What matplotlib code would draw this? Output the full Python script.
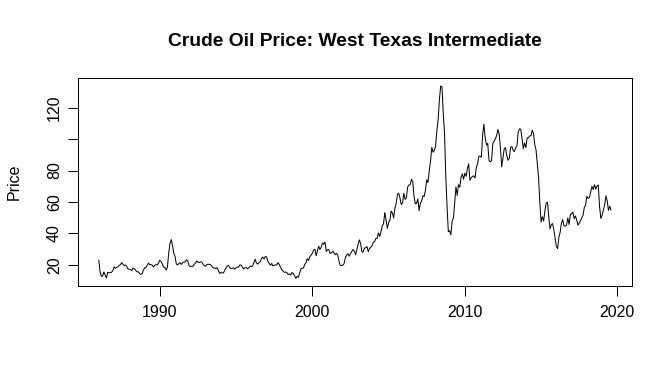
import numpy as np
import matplotlib
matplotlib.use("Agg")
import matplotlib.pyplot as plt

plt.rcParams['font.family'] = ['Liberation Sans', 'DejaVu Sans']

start_year = 1986
price = [
    # 1986
    22.93, 15.46, 12.61, 12.84, 15.38, 13.43, 11.58, 15.10, 14.87, 14.90, 15.22, 16.11,
    # 1987
    18.65, 17.75, 18.30, 18.68, 19.44, 20.07, 21.34, 20.31, 19.53, 19.86, 18.85, 17.28,
    # 1988
    17.13, 16.80, 16.20, 17.86, 17.42, 16.53, 15.50, 15.52, 14.54, 13.77, 14.14, 16.38,
    # 1989
    18.02, 17.94, 19.48, 21.07, 20.12, 20.05, 19.78, 18.58, 19.59, 20.10, 19.86, 21.10,
    # 1990
    22.86, 22.11, 20.39, 18.43, 18.20, 16.70, 18.45, 27.31, 33.51, 36.04, 32.33, 27.28,
    # 1991
    25.23, 20.48, 19.90, 20.83, 21.23, 20.19, 21.40, 21.69, 21.89, 23.23, 22.46, 19.50,
    # 1992
    18.79, 19.01, 18.92, 20.23, 20.98, 22.39, 21.78, 21.34, 21.88, 21.69, 20.34, 19.41,
    # 1993
    19.03, 20.09, 20.32, 20.25, 19.95, 19.09, 17.89, 18.01, 17.50, 18.15, 16.61, 14.52,
    # 1994
    15.03, 14.78, 14.68, 16.42, 17.89, 19.06, 19.66, 18.38, 17.45, 17.72, 18.07, 17.16,
    # 1995
    18.04, 18.57, 18.54, 19.90, 19.74, 18.45, 17.33, 18.02, 18.23, 17.43, 17.99, 19.03,
    # 1996
    18.85, 19.09, 21.33, 23.50, 21.17, 20.42, 21.30, 21.90, 23.97, 24.88, 23.71, 25.23,
    # 1997
    25.13, 22.18, 20.97, 19.70, 20.82, 19.26, 19.66, 19.95, 19.80, 21.33, 20.19, 18.33,
    # 1998
    16.72, 16.06, 15.12, 15.35, 14.91, 13.72, 14.17, 13.47, 15.03, 14.46, 13.00, 11.35,
    # 1999
    12.52, 12.01, 14.68, 17.31, 17.72, 17.92, 20.10, 21.28, 23.80, 22.69, 25.00, 26.10,
    # 2000
    27.26, 29.37, 29.84, 25.72, 28.79, 31.82, 29.70, 31.26, 33.88, 33.11, 34.42, 28.44,
    # 2001
    29.59, 29.61, 27.25, 27.49, 28.63, 27.60, 26.43, 27.37, 26.20, 22.17, 19.64, 19.39,
    # 2002
    19.72, 20.72, 24.53, 26.18, 27.04, 25.52, 26.97, 28.39, 29.66, 28.84, 26.35, 29.46,
    # 2003
    32.95, 35.83, 33.51, 28.17, 28.11, 30.66, 30.75, 31.57, 28.31, 30.34, 31.11, 32.13,
    # 2004
    34.31, 34.69, 36.74, 36.75, 40.28, 38.03, 40.78, 44.90, 45.94, 53.28, 48.47, 43.15,
    # 2005
    46.84, 48.15, 54.19, 52.98, 49.83, 56.35, 58.99, 64.98, 65.59, 62.26, 58.32, 59.41,
    # 2006
    65.49, 61.63, 62.69, 69.44, 70.84, 70.95, 74.41, 73.04, 63.80, 58.89, 59.08, 61.96,
    # 2007
    54.51, 59.28, 60.44, 63.98, 63.46, 67.49, 74.12, 72.36, 79.92, 85.80, 94.77, 91.69,
    # 2008
    92.97, 95.39, 105.45, 112.58, 125.40, 133.88, 133.37, 116.67, 104.11, 76.61, 57.31, 41.12,
    # 2009
    41.71, 39.09, 47.94, 49.65, 59.03, 69.64, 64.15, 71.05, 69.41, 75.72, 77.99, 74.47,
    # 2010
    78.33, 76.39, 81.20, 84.29, 73.74, 75.34, 76.32, 76.60, 75.24, 81.89, 84.25, 89.15,
    # 2011
    89.17, 88.58, 102.86, 109.53, 100.90, 96.26, 97.30, 86.33, 85.52, 86.32, 97.16, 98.56,
    # 2012
    100.27, 102.20, 106.16, 103.32, 94.66, 82.30, 87.90, 94.13, 94.51, 89.49, 86.53, 87.86,
    # 2013
    94.76, 95.31, 92.94, 92.02, 94.51, 95.77, 104.67, 106.57, 106.29, 100.54, 93.86, 97.63,
    # 2014
    94.62, 100.82, 100.80, 102.07, 102.18, 105.79, 103.59, 96.54, 93.21, 84.40, 75.79, 59.29,
    # 2015
    47.22, 50.58, 47.82, 54.45, 59.27, 59.82, 50.90, 42.87, 45.48, 46.22, 42.44, 37.19,
    # 2016
    31.68, 30.32, 37.55, 40.75, 46.71, 48.76, 44.65, 44.72, 45.18, 49.78, 45.66, 51.97,
    # 2017
    52.50, 53.47, 49.33, 51.06, 48.48, 45.18, 46.63, 48.04, 49.82, 51.58, 56.64, 57.88,
    # 2018
    63.70, 62.23, 62.73, 66.25, 69.98, 67.87, 70.98, 68.06, 70.23, 70.75, 56.96, 49.52,
    # 2019
    51.38, 54.95, 58.15, 63.86, 60.83, 54.66, 57.35, 54.81,
]

x_ticks = [1990, 2000, 2010, 2020]
x_tick_labels = ["1990", "2000", "2010", "2020"]
y_ticks = [20, 40, 60, 80, 100, 120]
y_tick_labels = ["20", "40", "60", "80", "", "120"]
title = "Crude Oil Price: West Texas Intermediate"
ylabel = "Price"

t = start_year + np.arange(len(price)) / 12.0
p = np.array(price)

W, H = 672, 384
fig = plt.figure(figsize=(W / 96, H / 96), dpi=96)
left, right, top, bottom = 78.3, 631.5, 78.3, 286.0
ax = fig.add_axes([left / W, 1 - bottom / H, (right - left) / W, (bottom - top) / H])

ax.plot(t, p, color='black', lw=0.75, antialiased=True)

def ext(lo, hi):
    r = hi - lo
    return lo - 0.04 * r, hi + 0.04 * r

ax.set_xlim(*ext(t.min(), t.max()))
ax.set_ylim(*ext(p.min(), p.max()))

ax.set_xticks(x_ticks)
ax.set_xticklabels(x_tick_labels)
ax.set_yticks(y_ticks)
ax.set_yticklabels(y_tick_labels, rotation=90, va='center')

ax.tick_params(axis='both', length=7.2, width=0.75, labelsize=12, color='black')
ax.tick_params(axis='x', pad=7.0)
ax.tick_params(axis='y', pad=5.0)
for s in ax.spines.values():
    s.set_linewidth(0.75)

fig.text((left + right) / 2 / W, 1 - 46.5 / H, title, ha='center', va='baseline',
         fontsize=14.4, fontweight='bold')
fig.text(18.5 / W, 1 - (top + bottom) / 2 / H, ylabel, rotation=90, rotation_mode='anchor',
         ha='center', va='baseline', fontsize=12)

fig.savefig("out.png", dpi=96)
